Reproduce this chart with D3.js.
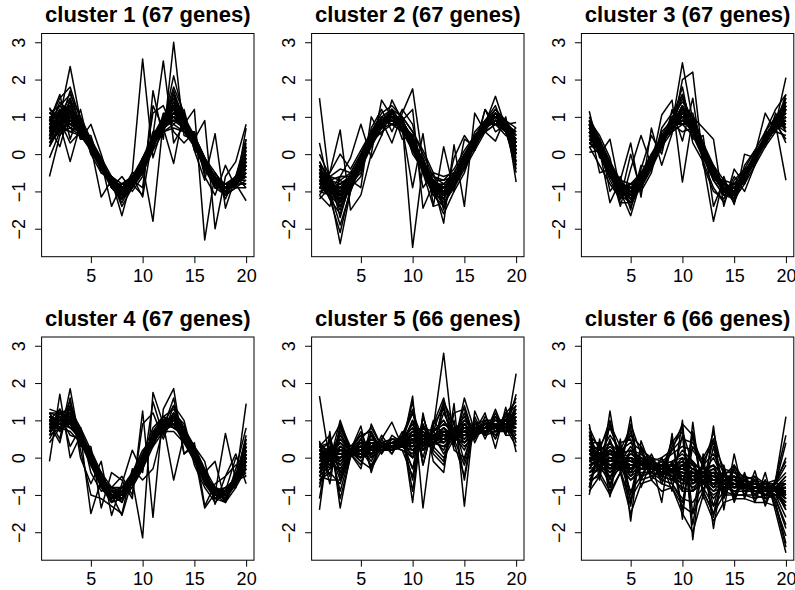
<!DOCTYPE html>
<html>
<head>
<meta charset="utf-8">
<script src="https://cdn.jsdelivr.net/npm/d3@7"></script>
<style>
  body { margin: 0; background: #fff; }
  svg { display: block; font-family: "Liberation Sans", Arial, Helvetica, sans-serif; }
  .main_title { font-weight: bold; font-size: 22px; }
  .tick text { font-size: 18px; fill: #000; }
</style>
</head>
<body>
<svg id="chart" width="795" height="590"></svg>
<script>
const timePoints = [1, 2, 3, 4, 5, 6, 7, 8, 9, 10, 11, 12, 13, 14, 15, 16, 17, 18, 19, 20]
const xTicks = [5, 10, 15, 20]
const yTicks = [-2, -1, 0, 1, 2, 3]
const clusterNames = ['cluster 1', 'cluster 2', 'cluster 3', 'cluster 4', 'cluster 5', 'cluster 6']
const clusterSizes = [67, 67, 67, 67, 66, 66]

// expression profiles, one row per gene
const cluster1 = [
    [0.9,1.1,1.3,0.8,0.3,-0.2,-0.7,-0.9,-0.7,-0.2,0.4,0.9,1.2,0.9,0.4,-0.2,-0.7,-0.9,-0.7,-0.1],
    [0.5,0.8,0.9,0.6,0.2,-0.3,-0.8,-1.1,-0.8,-0.4,0.3,0.8,1.0,0.8,0.3,-0.3,-0.8,-1.0,-0.8,-0.5],
    [1.1,1.3,1.6,1.0,0.4,-0.1,-0.6,-0.9,-0.6,-0.1,0.5,1.0,1.5,1.0,0.5,-0.1,-0.6,-0.8,-0.6,0.2],
    [0.3,0.6,0.7,0.5,0.1,-0.4,-0.9,-1.2,-0.9,-0.5,0.1,0.6,0.8,0.6,0.2,-0.4,-0.9,-1.1,-0.9,-0.7],
    [0.8,1.0,0.8,0.7,0.3,-0.2,-0.7,-1.0,-0.7,-0.3,0.4,0.9,1.3,0.7,0.3,-0.3,-0.7,-0.9,-0.7,-0.2],
    [0.6,0.7,1.2,0.8,0.2,-0.3,-0.8,-0.9,-0.8,-0.2,0.3,0.7,0.9,0.9,0.4,-0.2,-0.8,-1.0,-0.7,-0.4],
    [1.0,0.9,1.1,0.6,0.1,-0.3,-0.7,-1.1,-0.7,-0.3,0.2,0.9,1.2,0.8,0.4,-0.3,-0.6,-0.9,-0.8,0.0],
    [0.4,1.2,1.0,0.7,0.3,-0.1,-0.8,-1.0,-0.9,-0.4,0.4,0.8,1.1,0.9,0.3,-0.2,-0.8,-1.0,-0.7,-0.6],
    [0.7,0.5,0.9,0.9,0.2,-0.4,-0.6,-0.8,-0.7,-0.2,0.5,0.8,0.9,0.7,0.5,-0.1,-0.7,-0.9,-0.8,-0.3],
    [1.2,1.0,1.4,0.7,0.2,-0.2,-0.9,-1.2,-0.8,-0.3,0.3,1.0,1.6,1.0,0.3,-0.3,-0.8,-1.0,-0.6,0.4],
    [0.2,0.8,0.6,0.5,0.3,-0.3,-0.7,-1.0,-0.6,-0.4,0.2,0.7,1.0,0.8,0.4,-0.2,-0.7,-1.1,-0.9,-0.9],
    [0.9,1.5,1.8,0.9,0.2,-0.2,-0.8,-1.3,-0.8,-0.1,0.4,0.9,1.8,1.1,0.2,-0.3,-0.9,-0.8,-0.7,-0.2],
    [0.6,0.9,0.3,0.6,0.1,-0.4,-0.8,-0.9,-0.8,-0.3,0.3,0.6,0.7,0.6,0.4,-0.2,-0.6,-0.9,-0.7,-0.5],
    [-0.1,0.6,1.0,0.8,0.4,-0.2,-0.7,-1.0,-0.7,-0.2,0.4,0.9,1.2,0.7,0.3,-0.3,-0.7,-1.0,-0.6,-0.3],
    [0.8,0.9,1.1,0.5,0.2,-0.3,-0.7,-1.4,-0.9,-0.5,0.2,0.8,2.1,1.0,0.4,-0.2,-0.8,-1.0,-0.8,-0.8],
    [1.0,0.7,0.9,0.7,0.3,-0.1,-0.8,-0.8,-0.6,-0.2,0.3,0.9,1.0,0.9,0.5,-0.1,-0.5,-0.9,-0.6,0.1],
    [0.7,0.9,1.0,0.7,0.2,-0.3,-0.8,-1.0,-0.8,-0.3,0.3,0.8,1.1,0.8,0.3,-0.3,-0.8,-1.0,-0.8,-0.3],
    [0.8,1.0,1.1,0.8,0.3,-0.2,-0.7,-0.9,-0.7,-0.2,0.4,0.9,1.2,0.9,0.4,-0.2,-0.7,-0.9,-0.7,-0.2],
    [0.6,0.8,0.9,0.6,0.2,-0.3,-0.8,-1.1,-0.8,-0.4,0.3,0.8,1.0,0.8,0.3,-0.3,-0.8,-1.0,-0.8,-0.4],
    [0.9,0.8,1.0,0.7,0.3,-0.2,-0.8,-1.0,-0.7,-0.3,0.4,0.8,1.1,0.9,0.3,-0.3,-0.7,-1.0,-0.7,-0.1],
    [0.5,1.0,1.2,0.7,0.2,-0.3,-0.7,-1.0,-0.8,-0.3,0.3,0.9,1.0,0.8,0.4,-0.2,-0.8,-0.9,-0.8,-0.5],
    [0.8,0.7,0.9,0.8,0.3,-0.2,-0.7,-0.9,-0.8,-0.4,0.4,0.8,1.2,0.8,0.4,-0.3,-0.8,-0.9,-0.6,-0.3],
    [0.7,1.1,1.0,0.6,0.2,-0.3,-0.9,-1.0,-0.7,-0.2,0.3,0.9,1.1,0.9,0.3,-0.2,-0.7,-1.0,-0.8,-0.2],
    [0.6,0.9,1.3,0.7,0.3,-0.3,-0.8,-1.1,-0.7,-0.3,0.4,0.8,1.3,0.8,0.3,-0.2,-0.8,-0.9,-0.7,-0.6],
    [1.0,1.0,0.9,0.7,0.2,-0.2,-0.7,-1.0,-0.8,-0.3,0.3,0.9,1.0,0.9,0.4,-0.3,-0.7,-1.0,-0.8,0.0],
    [0.7,0.8,1.1,0.8,0.2,-0.3,-0.8,-0.9,-0.7,-0.4,0.4,0.8,1.1,0.8,0.3,-0.2,-0.8,-0.9,-0.7,-0.3],
    [0.4,0.9,0.8,0.6,0.3,-0.2,-0.7,-1.0,-0.8,-0.3,0.3,0.7,0.9,0.8,0.4,-0.3,-0.7,-1.0,-0.7,-0.7],
    [0.8,1.2,1.1,0.7,0.2,-0.3,-0.7,-1.1,-0.8,-0.2,0.4,0.9,1.4,0.9,0.3,-0.2,-0.8,-0.9,-0.8,-0.1],
    [0.6,0.8,1.0,0.8,0.3,-0.2,-0.8,-1.0,-0.7,-0.3,0.3,0.8,1.0,0.7,0.4,-0.3,-0.7,-1.0,-0.7,-0.4],
    [0.9,1.1,0.8,0.6,0.2,-0.3,-0.8,-0.9,-0.8,-0.3,0.4,0.9,1.2,0.9,0.3,-0.2,-0.7,-0.9,-0.8,-0.2],
    [0.3,0.7,1.1,0.7,0.3,-0.2,-0.7,-1.0,-0.7,-0.4,0.3,0.8,1.1,0.8,0.4,-0.2,-0.8,-1.0,-0.7,-0.8],
    [0.8,0.9,1.2,0.8,0.2,-0.3,-0.8,-1.1,-0.8,-0.2,0.3,0.8,1.0,0.9,0.3,-0.3,-0.8,-0.9,-0.8,0.3],
    [1.0,0.6,1.3,0.5,0.5,-0.4,-0.6,-1.2,-0.6,-0.5,0.6,0.7,1.4,0.6,0.6,-0.4,-0.6,-1.1,-0.6,-0.6],
    [0.4,1.2,0.7,0.9,0.0,-0.1,-0.9,-0.8,-0.9,-0.1,0.1,1.1,0.8,1.1,0.1,-0.1,-0.9,-0.8,-0.9,0.1],
    [0.9,0.7,1.1,0.4,0.4,-0.5,-0.6,-1.1,-0.5,-0.5,0.5,0.6,1.3,0.6,0.5,-0.5,-0.6,-1.2,-0.6,-0.5],
    [0.5,1.1,0.8,0.9,0.1,-0.1,-0.9,-0.9,-0.9,-0.1,0.2,1.0,0.9,1.0,0.2,-0.1,-0.9,-0.8,-0.9,0.2],
    [1.1,0.9,1.4,0.6,0.3,-0.3,-0.8,-1.0,-0.7,-0.3,0.5,0.9,1.5,0.7,0.4,-0.3,-0.7,-1.0,-0.7,-0.4],
    [0.2,0.7,0.6,0.8,0.2,-0.2,-0.7,-0.9,-0.8,-0.2,0.3,0.8,0.9,0.9,0.3,-0.2,-0.8,-0.9,-0.8,-0.8],
    [0.8,1.3,0.9,0.6,0.4,-0.2,-0.8,-1.1,-0.6,-0.4,0.4,1.0,1.0,0.7,0.4,-0.3,-0.8,-1.1,-0.7,0.2],
    [0.6,0.6,1.5,0.8,0.1,-0.4,-0.7,-0.9,-0.9,-0.2,0.2,0.7,1.7,0.9,0.2,-0.2,-0.6,-0.9,-0.8,-0.6],
    [1.1,1.0,0.7,0.6,0.3,-0.3,-0.6,-1.0,-0.8,-0.3,0.4,0.8,1.1,1.0,0.4,-0.2,-0.8,-1.0,-0.6,-0.1],
    [0.7,1.4,1.1,0.7,0.2,-0.2,-0.8,-1.2,-0.7,-0.2,0.3,1.0,1.2,0.8,0.3,-0.3,-0.7,-0.9,-0.8,-0.5],
    [0.3,0.9,1.0,0.9,0.3,-0.3,-0.7,-0.9,-0.7,-0.4,0.4,0.7,1.0,0.7,0.5,-0.2,-0.8,-1.0,-0.7,0.4],
    [0.9,0.8,1.7,0.7,0.2,-0.2,-0.9,-1.0,-0.8,-0.3,0.3,0.9,1.6,0.8,0.3,-0.3,-0.7,-0.9,-0.8,-0.3],
    [0.6,1.0,2.35,0.9,0.3,-0.3,-0.8,-1.0,-0.5,2.55,-0.1,0.8,1.3,0.8,0.3,-0.2,-0.7,-1.0,-0.7,-0.3],
    [-0.6,0.5,1.0,0.6,0.2,-1.15,-0.7,-1.65,-0.6,-0.3,-1.8,0.9,1.2,0.6,0.3,-0.2,-0.8,-0.9,-0.8,-0.6],
    [0.7,0.2,1.2,0.5,0.2,-0.2,-1.4,-0.8,-0.6,-1.15,0.5,2.5,0.3,0.8,1.2,-2.3,-0.5,-0.9,-0.8,-1.25],
    [1.25,0.8,-0.2,0.8,0.3,-0.3,-0.9,-1.0,-0.8,-1.1,1.7,0.4,3.0,0.5,0.4,0.9,-2.0,-0.6,-0.2,0.8],
    [0.9,1.6,0.4,1.2,0.0,-0.5,-0.7,-1.2,-0.7,-0.9,1.3,0.7,-0.25,1.2,0.1,-0.7,0.55,-1.45,-0.6,-0.9],
    [0.5,1.1,1.5,0.4,0.8,0.0,-0.9,-0.6,-1.0,-0.6,1.1,1.3,0.6,0.3,0.6,-0.6,-1.1,-0.3,-0.9,0.7]
]
const cluster2 = [
    [-0.5,-0.8,-0.9,-0.6,-0.1,0.5,0.9,1.1,0.9,0.4,-0.2,-0.8,-0.9,-0.6,-0.1,0.4,0.8,1.0,0.8,0.3],
    [-0.8,-1.0,-1.2,-0.8,-0.3,0.3,0.8,0.9,0.7,0.2,-0.4,-0.9,-1.1,-0.8,-0.3,0.2,0.7,0.9,0.7,0.0],
    [-0.3,-0.6,-0.7,-0.5,0.0,0.6,1.0,1.2,1.0,0.6,0.0,-0.6,-0.8,-0.5,0.0,0.5,0.9,1.1,0.9,0.5],
    [-1.0,-1.1,-1.4,-0.9,-0.4,0.2,0.7,0.8,0.6,0.1,-0.5,-1.0,-1.3,-0.9,-0.4,0.1,0.6,0.8,0.6,-0.2],
    [-0.6,-0.7,-1.0,-0.7,-0.2,0.4,0.9,1.0,0.8,0.3,-0.3,-0.8,-1.0,-0.7,-0.2,0.3,0.8,0.9,0.8,0.2],
    [-0.4,-0.9,-0.8,-0.6,-0.3,0.5,0.8,1.1,0.7,0.4,-0.2,-0.9,-0.9,-0.6,-0.2,0.3,0.7,1.0,0.7,0.4],
    [-0.7,-0.6,-1.1,-0.8,-0.1,0.3,0.9,0.9,0.9,0.2,-0.4,-0.7,-1.1,-0.8,-0.3,0.4,0.8,0.9,0.7,0.1],
    [-0.9,-1.0,-0.6,-0.6,-0.2,0.4,0.7,1.2,0.8,0.5,-0.3,-0.9,-1.2,-0.7,-0.1,0.2,0.7,1.1,0.8,-0.4],
    [-0.2,-0.8,-1.3,-0.9,-0.3,0.2,0.8,1.0,0.6,0.3,-0.1,-0.8,-0.8,-0.6,-0.2,0.3,0.6,0.8,0.7,0.6],
    [-1.2,-0.9,-0.9,-0.7,-0.2,0.5,1.0,0.9,0.9,0.0,-0.4,-1.0,-1.0,-0.9,-0.3,0.4,0.9,1.0,0.9,0.3],
    [-0.5,-1.2,-1.6,-0.8,-0.4,0.3,0.6,0.8,0.7,0.3,-0.5,-1.1,-1.4,-0.8,-0.2,0.2,0.7,0.9,0.6,-0.2],
    [0.0,-0.6,-0.4,-0.5,0.0,0.6,1.1,1.3,1.0,0.6,0.1,-0.5,-0.6,-0.5,0.0,0.4,0.9,1.2,0.9,0.7],
    [-0.7,-1.0,-1.9,-1.0,-0.3,0.2,0.8,1.0,0.8,0.1,-0.3,-1.0,-1.6,-1.0,-0.5,0.3,0.7,1.0,0.8,0.0],
    [-0.6,-0.5,0.0,-0.4,0.1,0.6,0.9,1.1,0.9,0.4,-0.2,-0.6,-0.7,-0.4,0.1,0.5,0.8,1.1,0.8,0.5],
    [-0.9,-1.1,-1.0,-0.8,-0.5,0.4,0.9,0.8,0.8,0.3,-0.3,-0.9,-1.1,-0.7,-0.2,0.3,0.8,0.9,0.8,0.3],
    [-0.4,-0.7,-1.1,-0.6,-0.2,0.4,0.8,1.0,0.9,0.2,-0.2,-0.7,-0.9,-0.6,-0.3,0.3,0.7,1.0,0.7,0.2],
    [-0.6,-0.9,-1.0,-0.7,-0.2,0.4,0.8,1.0,0.8,0.3,-0.3,-0.9,-1.0,-0.7,-0.2,0.3,0.8,1.0,0.7,0.2],
    [-0.5,-0.8,-0.9,-0.6,-0.1,0.5,0.9,1.1,0.9,0.4,-0.2,-0.8,-0.9,-0.6,-0.1,0.4,0.8,1.0,0.8,0.3],
    [-0.7,-0.9,-1.1,-0.8,-0.3,0.3,0.8,0.9,0.7,0.2,-0.4,-0.9,-1.1,-0.8,-0.3,0.2,0.7,0.9,0.7,0.1],
    [-0.6,-0.8,-1.2,-0.7,-0.2,0.4,0.9,1.0,0.8,0.4,-0.3,-0.8,-1.0,-0.7,-0.2,0.3,0.8,0.9,0.8,0.4],
    [-0.8,-0.9,-0.9,-0.6,-0.2,0.3,0.8,1.1,0.8,0.3,-0.4,-0.9,-1.1,-0.7,-0.2,0.3,0.7,1.0,0.7,0.0],
    [-0.4,-0.8,-1.0,-0.8,-0.3,0.4,0.9,1.0,0.7,0.2,-0.3,-0.8,-0.9,-0.7,-0.1,0.4,0.8,0.9,0.8,0.3],
    [-0.7,-1.0,-1.2,-0.7,-0.1,0.5,0.8,0.9,0.8,0.3,-0.2,-0.9,-1.0,-0.8,-0.2,0.3,0.7,1.0,0.8,-0.1],
    [-0.5,-0.7,-0.8,-0.6,-0.2,0.4,0.9,1.1,0.9,0.4,-0.3,-0.7,-0.9,-0.6,-0.3,0.3,0.8,1.0,0.7,0.5],
    [-0.9,-0.9,-1.1,-0.7,-0.2,0.3,0.8,1.0,0.8,0.2,-0.3,-0.9,-1.1,-0.7,-0.2,0.2,0.7,0.9,0.7,0.2],
    [-0.6,-0.8,-1.0,-0.8,-0.3,0.4,0.9,1.0,0.9,0.3,-0.2,-0.8,-1.0,-0.6,-0.2,0.3,0.8,1.0,0.8,0.1],
    [-0.3,-0.9,-1.0,-0.6,-0.2,0.5,0.8,1.0,0.7,0.3,-0.4,-0.9,-1.0,-0.7,-0.1,0.3,0.7,0.9,0.7,0.4],
    [-0.7,-0.8,-0.9,-0.7,-0.1,0.4,0.9,0.9,0.8,0.4,-0.3,-0.8,-1.1,-0.8,-0.3,0.4,0.8,1.0,0.8,-0.3],
    [-0.6,-1.0,-1.3,-0.8,-0.2,0.3,0.8,1.1,0.8,0.3,-0.3,-0.9,-0.9,-0.7,-0.2,0.2,0.7,0.9,0.7,0.2],
    [-0.5,-0.7,-1.0,-0.6,-0.3,0.4,0.8,1.0,0.9,0.2,-0.2,-0.8,-1.0,-0.7,-0.2,0.3,0.8,1.0,0.8,0.6],
    [-0.8,-0.9,-1.1,-0.7,-0.2,0.5,0.9,1.0,0.8,0.3,-0.3,-0.9,-1.2,-0.7,-0.3,0.3,0.7,0.9,0.7,0.0],
    [-0.6,-0.8,-0.9,-0.7,-0.2,0.4,0.8,1.0,0.8,0.4,-0.3,-0.8,-1.0,-0.6,-0.2,0.4,0.8,1.1,0.8,0.3],
    [-0.9,-0.6,-1.3,-0.5,-0.4,0.6,0.7,1.2,0.6,0.5,-0.5,-0.7,-1.2,-0.5,-0.4,0.5,0.6,1.1,0.6,0.4],
    [-0.3,-1.1,-0.7,-0.9,0.0,0.2,1.0,0.8,1.0,0.1,-0.1,-1.0,-0.8,-0.9,0.0,0.1,0.9,0.8,0.9,0.0],
    [-0.8,-0.7,-1.2,-0.6,-0.3,0.5,0.7,1.1,0.7,0.4,-0.4,-0.7,-1.1,-0.6,-0.3,0.4,0.7,1.1,0.7,0.3],
    [-0.4,-1.0,-0.8,-0.8,-0.1,0.3,1.0,0.9,0.9,0.2,-0.2,-1.0,-0.9,-0.8,-0.1,0.2,0.8,0.8,0.8,0.1],
    [-1.0,-0.9,-1.5,-0.7,-0.2,0.4,0.8,1.0,0.8,0.3,-0.3,-0.9,-1.4,-0.7,-0.2,0.3,0.7,1.0,0.7,-0.5],
    [-0.2,-0.7,-0.6,-0.6,-0.2,0.4,0.9,1.2,0.8,0.4,-0.2,-0.7,-0.7,-0.6,-0.2,0.4,0.8,1.2,0.8,0.6],
    [-0.7,-1.2,-1.0,-0.7,-0.3,0.3,0.8,0.9,0.9,0.2,-0.4,-1.1,-1.0,-0.7,-0.3,0.3,0.7,0.9,0.8,0.2],
    [-0.5,-0.8,-1.4,-0.9,-0.1,0.5,0.9,1.0,0.7,0.3,-0.3,-0.8,-1.3,-0.9,-0.1,0.3,0.8,1.0,0.7,0.0],
    [-0.7,-0.9,-0.8,-0.6,-0.2,0.4,0.8,1.1,0.8,0.5,-0.3,-0.9,-0.8,-0.6,-0.2,0.4,0.7,1.0,0.8,0.4],
    [-0.6,-1.0,-1.1,-0.7,-0.2,0.3,0.9,1.0,0.7,0.2,-0.3,-0.8,-1.1,-0.7,-0.2,0.2,0.8,0.9,0.7,-0.2],
    [-1.1,-0.7,-1.0,-0.8,-0.3,0.4,0.8,0.9,0.8,0.3,-0.4,-0.9,-1.0,-0.8,-0.3,0.3,0.7,1.0,0.8,0.3],
    [-0.4,-0.9,-0.9,-0.6,-0.1,0.5,0.9,1.1,0.9,0.3,-0.2,-0.8,-0.9,-0.6,-0.1,0.4,0.8,0.9,0.7,0.5],
    [1.5,-0.8,-1.0,-0.7,-0.2,0.4,0.8,1.0,0.8,-2.5,-0.3,-0.9,-1.0,-0.7,-0.2,0.3,0.8,1.0,0.7,0.3],
    [0.3,-1.0,-2.4,-1.0,-0.2,0.5,0.9,0.3,1.1,1.75,-0.2,-0.8,-1.0,-0.7,-0.2,0.3,0.8,1.55,0.7,0.1],
    [-0.8,-0.5,0.65,-1.5,-1.1,0.0,1.45,1.0,0.7,-0.9,0.55,-1.4,0.2,-1.0,0.4,0.2,1.2,0.6,0.8,0.85],
    [-1.1,-1.4,-0.6,-0.1,0.8,-0.1,0.5,1.45,0.9,1.2,-1.45,-0.8,-1.85,0.25,-1.4,1.1,0.6,0.35,1.0,-0.75],
    [-0.5,-1.2,-2.1,-0.9,-0.6,0.7,1.2,0.6,1.2,0.8,-0.5,-1.4,-1.3,-0.1,0.5,0.1,1.2,0.8,0.5,0.7],
    [-0.9,-0.6,-1.7,-0.7,-0.9,1.0,0.5,1.2,0.4,0.5,-0.9,-0.5,-1.5,-0.5,-0.4,0.6,0.9,1.3,0.6,-0.3]
]
const cluster3 = [
    [0.7,0.3,-0.3,-0.8,-0.9,-0.6,-0.1,0.4,0.9,1.1,0.8,0.2,-0.4,-0.8,-0.9,-0.5,0.0,0.5,0.9,1.1],
    [0.4,0.1,-0.5,-1.0,-1.1,-0.8,-0.3,0.3,0.7,0.9,0.6,0.0,-0.6,-1.0,-1.1,-0.7,-0.2,0.3,0.7,0.8],
    [0.9,0.4,-0.2,-0.7,-0.8,-0.5,0.0,0.5,1.0,1.4,1.0,0.3,-0.3,-0.7,-0.8,-0.4,0.1,0.6,1.0,1.4],
    [0.3,0.0,-0.6,-1.1,-1.3,-0.9,-0.4,0.2,0.6,0.8,0.5,-0.1,-0.7,-1.1,-1.2,-0.8,-0.3,0.2,0.6,0.5],
    [0.6,0.2,-0.4,-0.9,-1.0,-0.7,-0.2,0.4,0.8,1.0,0.8,0.1,-0.5,-0.9,-1.0,-0.6,-0.1,0.4,0.8,1.0],
    [0.5,0.3,-0.5,-0.8,-1.1,-0.6,-0.2,0.3,0.9,1.2,0.7,0.2,-0.5,-1.0,-0.9,-0.6,-0.1,0.5,0.8,1.2],
    [0.8,0.1,-0.3,-1.0,-0.9,-0.8,-0.1,0.4,0.7,0.9,0.9,0.0,-0.4,-0.9,-1.1,-0.5,-0.2,0.4,0.9,0.9],
    [1.0,0.4,-0.4,-0.9,-1.2,-0.7,-0.3,0.3,0.8,1.6,0.8,0.2,-0.6,-0.8,-1.0,-0.7,0.0,0.3,0.7,1.3],
    [0.2,0.2,-0.2,-0.8,-1.0,-0.5,-0.2,0.4,0.9,1.0,1.1,0.1,-0.5,-1.0,-1.0,-0.6,-0.1,0.4,1.0,0.7],
    [0.6,0.0,-0.7,-1.2,-0.9,-0.7,-0.3,0.3,0.8,1.3,0.6,-0.1,-0.4,-0.9,-1.2,-0.5,-0.1,0.5,0.8,1.5],
    [0.7,0.3,-0.3,-0.9,-1.4,-0.8,-0.2,0.5,0.7,1.0,0.7,0.1,-0.6,-1.0,-0.8,-0.6,-0.2,0.4,0.9,0.3],
    [0.4,0.2,-0.4,-0.7,-1.0,-0.6,0.0,0.3,1.0,0.8,0.9,0.2,-0.5,-0.8,-1.0,-0.7,-0.1,0.3,0.8,1.0],
    [0.9,0.3,-0.5,-1.0,-1.1,-0.8,-0.2,0.4,0.6,1.1,0.6,0.0,-0.7,-1.1,-1.1,-0.6,0.0,0.4,0.7,1.2],
    [0.5,0.1,-0.3,-0.9,-0.8,-0.6,-0.1,0.2,0.9,0.9,0.8,0.1,-0.3,-0.9,-1.0,-0.5,-0.2,0.5,0.9,0.8],
    [0.3,0.1,-0.6,-0.9,-1.2,-0.9,-0.3,0.5,0.8,1.2,1.0,0.3,-0.5,-1.0,-1.1,-0.6,-0.1,0.4,0.8,1.1],
    [0.6,0.2,-0.4,-0.8,-1.0,-0.7,-0.2,0.3,0.8,0.6,0.7,0.0,-0.4,-0.9,-0.9,-0.7,-0.1,0.3,0.7,0.9],
    [0.6,0.2,-0.4,-0.9,-1.0,-0.7,-0.2,0.3,0.8,1.0,0.7,0.1,-0.5,-0.9,-1.0,-0.6,-0.1,0.4,0.8,1.0],
    [0.7,0.3,-0.3,-0.8,-0.9,-0.6,-0.1,0.4,0.9,1.1,0.8,0.2,-0.4,-0.8,-0.9,-0.5,0.0,0.5,0.9,1.1],
    [0.5,0.1,-0.5,-1.0,-1.1,-0.8,-0.3,0.3,0.7,0.9,0.7,0.0,-0.6,-1.0,-1.1,-0.7,-0.2,0.3,0.7,0.9],
    [0.6,0.3,-0.4,-0.8,-1.1,-0.7,-0.2,0.4,0.8,1.2,0.8,0.1,-0.5,-0.9,-1.0,-0.6,-0.1,0.4,0.8,1.2],
    [0.8,0.2,-0.5,-0.9,-1.0,-0.6,-0.2,0.3,0.9,1.0,0.6,0.1,-0.6,-0.9,-1.1,-0.7,-0.1,0.3,0.8,0.9],
    [0.4,0.2,-0.3,-1.0,-0.9,-0.7,-0.1,0.4,0.8,0.9,0.8,0.2,-0.4,-1.0,-1.0,-0.6,-0.2,0.4,0.9,1.0],
    [0.7,0.1,-0.4,-0.9,-1.2,-0.8,-0.3,0.3,0.7,1.1,0.7,0.0,-0.5,-0.8,-0.9,-0.5,-0.1,0.5,0.8,1.3],
    [0.5,0.3,-0.3,-0.8,-1.0,-0.7,-0.2,0.4,0.8,1.3,0.9,0.1,-0.4,-0.9,-1.0,-0.6,0.0,0.4,0.7,0.8],
    [0.6,0.2,-0.5,-1.0,-1.0,-0.6,-0.2,0.3,0.9,1.0,0.7,0.2,-0.5,-0.9,-1.1,-0.7,-0.1,0.3,0.8,1.1],
    [0.9,0.2,-0.4,-0.9,-0.9,-0.7,-0.3,0.4,0.8,0.8,0.8,0.0,-0.5,-1.0,-0.9,-0.6,-0.1,0.4,0.9,1.2],
    [0.3,0.1,-0.4,-0.8,-1.1,-0.7,-0.2,0.3,0.7,1.0,0.6,0.1,-0.6,-0.9,-1.0,-0.5,-0.2,0.4,0.8,0.7],
    [0.7,0.3,-0.5,-0.9,-1.0,-0.8,-0.1,0.4,0.9,1.1,0.8,0.2,-0.4,-0.8,-1.1,-0.6,-0.1,0.5,0.8,1.0],
    [0.5,0.2,-0.3,-1.0,-1.2,-0.6,-0.2,0.3,0.8,0.9,0.7,0.1,-0.5,-1.0,-1.0,-0.7,0.0,0.3,0.7,1.2],
    [0.8,0.1,-0.4,-0.9,-1.0,-0.7,-0.3,0.3,0.8,1.2,0.9,0.1,-0.6,-0.9,-0.9,-0.6,-0.1,0.4,0.9,0.9],
    [0.6,0.3,-0.4,-0.8,-0.9,-0.7,-0.2,0.4,0.7,1.0,0.7,0.0,-0.5,-0.9,-1.0,-0.6,-0.2,0.4,0.8,1.4],
    [0.4,0.2,-0.5,-0.9,-1.1,-0.6,-0.1,0.3,0.8,1.1,0.8,0.2,-0.4,-1.0,-1.0,-0.5,-0.1,0.5,0.8,1.0],
    [0.9,-0.1,-0.2,-1.1,-0.8,-0.9,0.0,0.1,1.0,0.8,0.9,-0.1,-0.3,-1.1,-0.8,-0.8,0.1,0.2,1.0,0.7],
    [0.3,0.4,-0.6,-0.7,-1.2,-0.5,-0.4,0.5,0.6,1.2,0.6,0.3,-0.7,-0.7,-1.2,-0.4,-0.3,0.6,0.6,1.3],
    [0.8,0.0,-0.3,-1.0,-0.9,-0.8,-0.1,0.2,0.9,0.9,0.8,0.0,-0.4,-1.0,-0.9,-0.7,0.0,0.3,0.9,0.8],
    [0.4,0.3,-0.5,-0.8,-1.1,-0.6,-0.3,0.4,0.7,1.1,0.7,0.2,-0.6,-0.8,-1.1,-0.5,-0.2,0.5,0.7,1.2],
    [0.7,0.2,-0.4,-0.9,-1.3,-0.7,-0.2,0.3,0.8,1.5,0.8,0.1,-0.5,-0.9,-1.3,-0.6,-0.1,0.4,0.8,1.5],
    [0.5,0.2,-0.4,-0.9,-0.8,-0.7,-0.2,0.4,0.8,0.9,0.7,0.1,-0.5,-0.9,-0.8,-0.6,-0.1,0.4,0.8,0.6],
    [0.6,0.1,-0.6,-1.1,-1.0,-0.6,-0.1,0.3,0.9,1.0,0.9,0.2,-0.4,-1.1,-1.0,-0.6,-0.2,0.4,0.9,1.1],
    [0.7,0.3,-0.2,-0.8,-1.0,-0.8,-0.3,0.4,0.7,1.3,0.6,0.0,-0.6,-0.9,-1.0,-0.7,0.0,0.3,0.7,0.9],
    [0.5,0.2,-0.5,-0.9,-1.1,-0.7,-0.2,0.4,0.8,1.0,0.8,0.1,-0.5,-0.8,-1.0,-0.6,-0.1,0.4,0.8,1.6],
    [0.8,0.3,-0.3,-0.9,-1.0,-0.6,-0.2,0.3,0.9,1.1,0.7,0.1,-0.4,-1.0,-1.1,-0.5,-0.1,0.5,0.8,0.4],
    [0.3,0.1,-0.5,-1.0,-0.9,-0.7,-0.1,0.3,0.7,0.9,0.8,0.2,-0.5,-0.9,-0.9,-0.7,-0.2,0.3,0.7,1.0],
    [0.6,0.2,-0.3,-0.8,-1.2,-0.8,-0.2,0.4,0.8,1.2,0.7,0.0,-0.6,-0.9,-1.0,-0.6,0.0,0.4,0.9,1.2],
    [1.15,0.0,0.4,-1.0,-1.65,-0.7,-0.2,0.3,0.8,2.45,0.9,0.1,-0.5,-0.9,-1.0,-0.6,-0.1,0.4,0.8,2.05],
    [0.05,0.1,-1.3,-0.7,0.3,-1.15,0.7,-0.3,0.55,2.0,2.2,-0.2,-1.8,-0.6,-1.35,0.0,-0.1,0.4,0.8,-0.7],
    [0.8,-0.5,-0.4,-1.4,-0.4,0.5,-0.3,1.05,1.45,-0.75,1.0,0.7,0.4,-1.4,-0.4,-0.8,0.0,1.1,0.6,1.3],
    [0.5,0.4,-1.0,-0.6,-1.5,-0.4,0.5,0.0,1.2,0.35,1.5,-0.3,-1.0,-1.2,-0.6,-1.0,-0.3,0.6,1.2,1.6],
    [0.2,-0.3,-0.8,-1.2,0.0,-1.0,-0.5,0.6,0.9,1.8,0.4,0.5,-1.4,-0.7,-1.3,-0.3,0.1,0.2,1.1,0.6],
    [0.9,0.5,-0.1,-1.3,-1.3,-0.3,-0.4,0.7,1.1,1.6,0.3,-0.2,-0.9,-1.3,-0.7,-0.4,-0.3,0.5,0.6,1.4]
]
const cluster4 = [
    [1.0,1.1,1.1,0.7,0.1,-0.5,-0.9,-0.9,-0.5,0.0,0.6,1.0,1.0,0.7,0.2,-0.4,-0.9,-0.9,-0.5,0.1],
    [0.8,0.9,0.9,0.5,-0.1,-0.7,-1.1,-1.0,-0.7,-0.2,0.4,0.8,0.9,0.5,0.0,-0.6,-1.0,-1.1,-0.7,-0.1],
    [1.2,1.2,1.3,0.8,0.2,-0.4,-0.8,-0.8,-0.4,0.1,0.8,1.1,1.3,0.8,0.3,-0.3,-0.8,-0.9,-0.5,0.3],
    [0.6,0.8,0.7,0.4,-0.2,-0.8,-1.2,-1.1,-0.8,-0.3,0.3,0.7,0.7,0.4,-0.1,-0.7,-1.1,-1.2,-0.8,-0.3],
    [0.9,1.0,1.0,0.6,0.0,-0.6,-1.0,-1.0,-0.6,-0.1,0.5,0.9,1.0,0.6,0.1,-0.5,-1.0,-1.0,-0.6,0.0],
    [1.1,0.8,1.2,0.5,0.1,-0.5,-1.1,-0.9,-0.5,-0.1,0.6,1.0,0.8,0.7,0.1,-0.5,-0.9,-1.0,-0.7,0.2],
    [0.7,1.1,0.9,0.7,-0.1,-0.7,-0.9,-1.0,-0.7,0.0,0.4,0.8,1.1,0.5,0.0,-0.6,-1.0,-0.9,-0.6,-0.2],
    [1.0,0.7,1.4,0.6,0.0,-0.4,-1.0,-1.2,-0.6,-0.2,0.7,1.1,0.9,0.6,0.2,-0.4,-1.1,-1.0,-0.5,0.5],
    [0.5,1.0,0.8,0.5,0.1,-0.6,-0.8,-0.9,-0.5,-0.1,0.5,0.7,1.1,0.8,0.0,-0.5,-0.9,-1.1,-0.6,-0.4],
    [1.3,1.2,1.1,0.6,-0.2,-0.7,-1.2,-0.9,-0.7,0.1,0.6,1.0,1.0,0.5,0.1,-0.6,-1.0,-1.0,-0.7,0.1],
    [0.8,0.9,1.2,0.7,0.0,-0.5,-1.0,-1.1,-0.6,-0.2,0.4,0.9,0.8,0.6,0.1,-0.5,-0.9,-0.8,-0.6,0.0],
    [0.9,1.1,0.6,0.5,0.2,-0.8,-1.1,-1.0,-0.5,-0.1,0.6,0.8,1.2,0.7,0.3,-0.4,-0.9,-1.1,-0.5,0.2],
    [1.1,0.9,1.0,0.8,-0.1,-0.6,-0.9,-0.8,-0.6,0.0,0.3,1.0,0.9,0.4,0.0,-0.6,-1.1,-0.9,-0.7,-0.2],
    [0.4,0.8,1.1,0.6,0.0,-0.5,-1.0,-1.0,-0.7,-0.3,0.7,0.9,1.0,0.6,0.2,-0.5,-0.8,-1.0,-0.6,0.4],
    [1.0,1.3,0.9,0.4,-0.1,-0.7,-1.0,-1.1,-0.6,-0.1,0.5,0.7,0.9,0.7,0.1,-0.7,-1.0,-1.2,-0.6,-0.3],
    [0.7,1.0,1.0,0.6,0.1,-0.6,-0.9,-0.9,-0.4,0.2,0.5,1.0,1.1,0.5,0.0,-0.5,-0.9,-1.0,-0.5,0.1],
    [0.9,1.0,1.0,0.6,0.0,-0.6,-1.0,-1.0,-0.6,-0.1,0.5,0.9,1.0,0.6,0.1,-0.5,-1.0,-1.0,-0.6,0.0],
    [1.0,1.1,1.1,0.7,0.1,-0.5,-0.9,-0.9,-0.5,0.0,0.6,1.0,1.0,0.7,0.2,-0.4,-0.9,-0.9,-0.5,0.1],
    [0.8,0.9,0.9,0.5,-0.1,-0.7,-1.1,-1.0,-0.7,-0.2,0.4,0.8,0.9,0.5,0.0,-0.6,-1.0,-1.1,-0.7,-0.1],
    [0.9,1.0,1.1,0.6,0.0,-0.6,-1.0,-0.9,-0.6,-0.1,0.5,1.0,1.0,0.6,0.1,-0.5,-0.9,-1.0,-0.6,0.2],
    [1.0,0.9,1.0,0.5,0.0,-0.5,-1.0,-1.0,-0.7,-0.1,0.5,0.8,0.9,0.6,0.0,-0.6,-1.0,-1.0,-0.6,-0.1],
    [0.8,1.1,1.0,0.6,0.1,-0.6,-1.0,-1.0,-0.5,0.0,0.6,0.9,1.0,0.7,0.1,-0.5,-0.9,-1.1,-0.7,0.0],
    [1.1,1.0,0.9,0.7,-0.1,-0.7,-1.1,-0.9,-0.6,-0.2,0.4,0.9,1.1,0.5,0.2,-0.4,-1.0,-1.0,-0.5,0.3],
    [0.9,0.9,1.2,0.6,0.0,-0.6,-0.9,-1.0,-0.6,-0.1,0.5,1.0,0.9,0.6,0.1,-0.6,-1.0,-0.9,-0.6,-0.2],
    [0.7,1.0,1.0,0.5,0.1,-0.5,-1.0,-1.1,-0.6,0.0,0.6,0.9,1.0,0.7,0.0,-0.5,-0.9,-1.0,-0.7,0.1],
    [1.0,1.1,0.9,0.6,0.0,-0.6,-1.1,-1.0,-0.7,-0.1,0.4,0.8,1.0,0.6,0.1,-0.5,-1.0,-1.1,-0.6,-0.1],
    [0.9,1.2,1.1,0.7,0.0,-0.7,-1.0,-0.9,-0.5,-0.1,0.5,1.0,0.9,0.5,0.1,-0.4,-0.9,-1.0,-0.5,0.4],
    [0.8,0.9,1.0,0.6,-0.1,-0.6,-0.9,-1.0,-0.6,0.0,0.6,0.9,1.1,0.6,0.2,-0.5,-1.0,-0.9,-0.6,0.0],
    [1.1,1.0,1.1,0.5,0.1,-0.5,-1.0,-1.0,-0.6,-0.2,0.5,0.9,0.9,0.7,0.1,-0.6,-0.9,-1.0,-0.7,-0.3],
    [0.9,0.8,1.0,0.7,0.0,-0.6,-1.1,-0.9,-0.7,-0.1,0.5,0.8,1.0,0.6,0.0,-0.5,-1.0,-1.1,-0.6,0.2],
    [1.0,1.0,1.2,0.6,0.1,-0.6,-0.9,-1.0,-0.5,0.0,0.6,1.1,1.0,0.5,0.1,-0.5,-0.9,-1.0,-0.6,0.0],
    [0.8,1.1,0.9,0.6,0.0,-0.5,-1.0,-1.0,-0.6,-0.1,0.4,0.9,1.0,0.6,0.1,-0.6,-1.0,-0.9,-0.5,0.1],
    [1.2,0.8,1.3,0.4,0.2,-0.8,-0.8,-1.2,-0.4,-0.3,0.7,0.7,1.2,0.4,0.3,-0.7,-0.8,-1.2,-0.4,-0.2],
    [0.6,1.2,0.8,0.8,-0.2,-0.4,-1.2,-0.8,-0.8,0.1,0.3,1.1,0.8,0.8,-0.1,-0.3,-1.1,-0.8,-0.8,0.2],
    [1.1,0.9,1.2,0.5,0.1,-0.7,-0.9,-1.1,-0.5,-0.2,0.6,0.8,1.1,0.5,0.2,-0.6,-0.9,-1.1,-0.5,-0.1],
    [0.7,1.1,0.9,0.7,-0.1,-0.5,-1.1,-0.9,-0.7,0.0,0.4,1.0,0.9,0.7,0.0,-0.4,-1.0,-0.9,-0.7,0.1],
    [1.0,1.0,1.5,0.6,0.0,-0.6,-1.0,-0.9,-0.6,-0.1,0.5,0.9,1.4,0.6,0.1,-0.5,-1.0,-1.0,-0.6,0.6],
    [0.8,0.9,0.8,0.6,0.0,-0.6,-1.0,-1.0,-0.6,-0.1,0.5,0.9,0.8,0.6,0.1,-0.5,-0.9,-1.0,-0.6,-0.5],
    [0.9,1.2,1.0,0.5,0.1,-0.7,-1.1,-1.0,-0.5,0.0,0.6,1.0,1.0,0.5,0.0,-0.6,-1.0,-1.1,-0.6,0.3],
    [1.0,0.8,1.1,0.7,-0.1,-0.5,-0.9,-0.9,-0.7,-0.2,0.4,0.8,1.0,0.7,0.2,-0.5,-0.9,-0.9,-0.7,-0.1],
    [0.8,1.0,1.0,0.6,0.0,-0.6,-1.0,-1.0,-0.6,-0.1,0.5,0.9,1.0,0.6,0.1,-0.5,-1.0,-1.0,-0.6,0.5],
    [1.2,1.1,0.9,0.6,0.0,-0.6,-1.0,-0.9,-0.6,-0.1,0.5,1.0,0.9,0.6,0.1,-0.6,-1.0,-1.0,-0.6,-0.3],
    [0.7,0.9,1.1,0.5,0.1,-0.5,-0.9,-1.0,-0.5,0.0,0.6,0.8,1.1,0.5,0.0,-0.5,-0.9,-1.0,-0.5,0.1],
    [1.0,1.0,1.0,0.7,-0.1,-0.7,-1.1,-0.9,-0.7,-0.2,0.4,0.9,1.0,0.7,0.1,-0.5,-1.0,-1.0,-0.7,0.0],
    [-0.1,1.7,0.0,0.6,-1.5,-0.6,-1.0,-1.55,-0.6,-2.15,1.75,0.9,-0.6,0.6,0.1,-1.35,-0.95,0.65,-0.6,1.45],
    [1.0,0.5,1.85,0.3,0.3,-1.35,-0.4,-0.6,-1.1,1.25,-1.6,1.3,1.85,0.1,0.3,-0.1,-1.25,-0.5,0.1,-0.7],
    [0.9,0.4,1.6,0.0,-0.7,-0.1,-1.55,-0.7,0.2,-0.4,1.5,0.6,1.4,1.0,-0.1,-0.4,-0.1,-1.2,-0.3,0.8],
    [1.2,0.7,1.4,0.2,-1.0,-1.1,-1.3,-1.5,-0.3,-0.6,-0.3,0.8,1.6,0.1,0.4,-1.3,-0.7,-0.5,-0.2,-0.5],
    [0.7,1.3,0.3,0.8,-0.4,-0.9,-0.8,-0.5,-1.0,0.9,1.2,0.5,1.2,0.9,-0.2,-0.8,-1.2,-0.9,0.0,-0.3]
]
const cluster5 = [
    [0.1,0.1,0.2,0.2,0.3,0.3,0.3,0.4,0.4,0.5,0.6,0.6,0.7,0.7,0.8,0.8,0.8,0.9,0.9,1.0],
    [-0.2,0.0,0.0,0.1,0.1,0.2,0.2,0.3,0.3,0.4,0.4,0.5,0.5,0.6,0.6,0.7,0.7,0.8,0.8,0.9],
    [0.3,0.2,0.4,0.2,0.4,0.4,0.4,0.5,0.5,0.7,0.8,0.7,0.9,0.8,0.9,0.9,1.0,1.0,1.0,1.2],
    [-0.5,-0.2,-0.3,0.1,0.0,0.1,0.2,0.2,0.3,0.2,0.2,0.4,0.3,0.5,0.4,0.6,0.7,0.7,0.7,0.7],
    [0.0,0.1,0.1,0.15,0.2,0.3,0.3,0.3,0.4,0.5,0.5,0.5,0.6,0.6,0.7,0.7,0.8,0.8,0.9,0.9],
    [0.2,-0.1,0.5,0.2,0.1,0.5,0.3,0.2,0.5,0.8,0.3,0.6,0.8,0.5,0.9,0.6,0.9,0.9,0.8,1.1],
    [-0.3,0.3,-0.2,0.1,0.4,0.0,0.3,0.4,0.3,0.1,0.7,0.4,0.4,0.7,0.5,0.8,0.6,0.7,1.0,0.8],
    [0.4,0.0,0.6,0.2,0.2,0.6,0.2,0.4,0.4,1.0,0.5,0.7,1.0,0.6,1.0,0.7,0.8,1.1,0.8,1.3],
    [-0.1,0.2,-0.6,0.15,0.3,-0.1,0.4,0.3,0.5,0.0,0.8,0.5,0.2,0.8,0.4,0.8,0.9,0.6,1.0,0.6],
    [0.1,-0.3,0.3,0.1,0.5,0.2,0.3,0.5,0.4,0.6,0.4,0.6,0.7,0.5,0.8,0.6,0.8,0.9,0.9,1.0],
    [-0.7,0.0,0.0,0.2,-0.1,0.3,0.2,0.3,0.3,0.5,0.3,0.5,0.5,0.6,0.6,0.7,0.7,0.8,0.7,0.8],
    [0.3,0.4,-0.4,0.15,0.2,0.1,0.4,0.2,0.4,-0.3,0.6,0.4,1.2,0.6,0.2,0.8,0.8,0.9,0.9,1.1],
    [0.0,-0.2,0.8,0.2,0.0,0.6,0.3,0.4,0.5,1.2,0.2,0.7,1.5,0.7,1.1,0.6,0.9,0.8,0.8,1.4],
    [-0.4,0.2,0.2,0.1,0.3,0.2,0.3,0.3,0.3,0.3,0.6,0.5,0.5,0.6,0.7,0.7,0.7,0.8,0.9,0.9],
    [0.2,0.1,0.0,0.2,0.2,0.3,0.4,0.3,0.5,0.6,0.5,0.6,0.4,0.6,0.6,0.8,0.8,0.9,1.0,1.0],
    [-0.6,-0.4,-0.7,0.1,0.2,-0.2,0.3,0.3,0.2,-0.5,0.9,0.3,0.0,0.5,-0.2,0.7,0.7,0.9,0.8,0.5],
    [0.0,0.05,0.1,0.15,0.2,0.25,0.3,0.3,0.4,0.45,0.5,0.55,0.6,0.6,0.7,0.7,0.8,0.85,0.85,0.95],
    [0.2,0.1,0.2,0.2,0.3,0.3,0.3,0.4,0.5,0.6,0.6,0.6,0.7,0.7,0.8,0.8,0.9,0.9,0.9,1.1],
    [-0.2,0.0,0.0,0.1,0.1,0.2,0.3,0.3,0.3,0.3,0.4,0.5,0.5,0.5,0.6,0.7,0.7,0.8,0.8,0.8],
    [0.1,0.0,0.3,0.15,0.2,0.3,0.2,0.3,0.4,0.6,0.4,0.6,0.7,0.6,0.8,0.7,0.8,0.9,0.9,1.0],
    [-0.1,0.2,-0.1,0.2,0.3,0.2,0.3,0.4,0.4,0.4,0.6,0.5,0.5,0.7,0.6,0.8,0.8,0.8,0.9,0.9],
    [0.3,0.0,0.4,0.1,0.2,0.4,0.3,0.3,0.5,0.7,0.5,0.6,0.8,0.6,0.9,0.7,0.8,0.9,0.8,1.2],
    [-0.3,0.1,-0.3,0.15,0.1,0.1,0.3,0.2,0.3,0.2,0.5,0.5,0.4,0.6,0.5,0.7,0.7,0.8,0.9,0.8],
    [0.1,0.2,0.1,0.2,0.2,0.3,0.4,0.3,0.4,0.5,0.6,0.6,0.6,0.7,0.7,0.7,0.9,0.9,0.8,1.0],
    [-0.1,-0.1,0.0,0.1,0.2,0.2,0.3,0.3,0.4,0.4,0.5,0.5,0.6,0.5,0.7,0.6,0.8,0.8,0.9,0.9],
    [0.4,0.1,0.5,0.2,0.3,0.4,0.3,0.4,0.5,0.8,0.4,0.7,0.9,0.7,1.0,0.8,0.9,1.0,1.0,1.1],
    [-0.4,0.0,-0.4,0.1,0.1,0.0,0.2,0.2,0.3,0.0,0.5,0.4,0.3,0.6,0.4,0.7,0.7,0.7,0.8,0.7],
    [0.0,0.3,0.2,0.2,0.1,0.3,0.3,0.4,0.4,0.5,0.5,0.6,0.6,0.6,0.7,0.8,0.8,0.9,0.9,1.0],
    [0.2,-0.2,0.2,0.1,0.3,0.2,0.2,0.3,0.5,0.6,0.7,0.5,0.7,0.7,0.6,0.7,0.8,0.8,1.0,0.9],
    [-0.2,0.1,0.0,0.2,0.2,0.3,0.4,0.3,0.4,0.3,0.4,0.6,0.5,0.6,0.8,0.7,0.7,0.9,0.8,1.0],
    [0.1,0.0,0.1,0.1,0.2,0.2,0.3,0.3,0.3,0.5,0.5,0.5,0.6,0.7,0.7,0.7,0.8,0.8,0.9,0.9],
    [-0.5,0.1,0.6,0.2,0.0,0.4,0.2,0.4,0.5,0.9,0.3,0.7,1.0,0.5,0.9,0.6,0.9,0.9,0.8,1.3],
    [0.3,-0.1,0.3,0.1,0.4,0.1,0.4,0.2,0.5,0.3,0.7,0.4,0.8,0.5,0.9,0.6,0.9,0.8,1.0,0.8],
    [-0.3,0.2,-0.1,0.2,0.0,0.4,0.2,0.4,0.3,0.6,0.3,0.7,0.4,0.7,0.5,0.8,0.7,0.9,0.7,1.1],
    [0.1,0.0,0.2,0.15,0.3,0.2,0.3,0.3,0.4,0.5,0.5,0.6,0.6,0.6,0.8,0.7,0.8,0.9,0.8,1.0],
    [-0.1,0.1,0.0,0.15,0.1,0.3,0.3,0.3,0.4,0.4,0.5,0.5,0.6,0.6,0.6,0.7,0.8,0.8,0.9,0.9],
    [0.2,0.0,-0.2,0.2,0.3,0.1,0.4,0.3,0.3,0.7,0.4,0.6,0.5,0.7,0.7,0.8,0.7,0.9,0.9,1.2],
    [-0.2,0.1,0.4,0.1,0.1,0.4,0.2,0.3,0.5,0.2,0.6,0.5,0.8,0.5,0.6,0.6,0.9,0.8,0.8,0.7],
    [0.0,0.2,0.1,0.1,0.2,0.2,0.3,0.4,0.4,0.5,0.4,0.5,0.6,0.6,0.7,0.8,0.8,0.8,0.9,0.9],
    [0.1,-0.2,0.0,0.2,0.2,0.3,0.3,0.2,0.4,0.4,0.6,0.6,0.5,0.7,0.7,0.6,0.8,0.9,0.8,1.0],
    [-0.4,0.0,0.2,0.15,0.3,0.2,0.3,0.3,0.3,0.5,0.5,0.5,0.7,0.6,0.8,0.7,0.7,0.8,0.9,0.8],
    [0.2,0.1,-0.1,0.1,0.2,0.3,0.2,0.4,0.4,0.4,0.5,0.6,0.6,0.5,0.6,0.7,0.9,0.9,0.8,1.1],
    [-0.1,0.1,0.1,0.2,0.1,0.2,0.3,0.3,0.5,0.6,0.4,0.5,0.6,0.7,0.7,0.8,0.8,0.8,0.9,1.0],
    [0.1,0.0,0.0,0.1,0.3,0.3,0.3,0.4,0.4,0.4,0.5,0.6,0.5,0.6,0.7,0.7,0.8,0.9,0.9,0.9],
    [0.4,-0.5,0.8,0.2,0.6,-0.3,0.5,0.1,0.6,1.3,-0.2,0.9,1.3,0.4,1.4,0.5,1.1,0.7,1.2,1.5],
    [-0.8,0.3,-0.9,0.1,-0.2,0.7,0.2,0.4,0.5,-0.6,0.9,0.1,-0.2,1.0,-0.6,1.0,0.6,1.2,0.6,0.6],
    [0.3,0.6,-0.5,0.2,0.7,0.0,0.6,0.2,0.3,1.0,0.0,1.0,0.6,0.5,1.2,0.4,1.0,0.5,1.1,1.4],
    [-0.6,-0.3,0.7,0.1,0.0,0.6,0.1,0.5,0.4,-0.3,1.1,0.3,1.4,0.2,0.0,0.9,0.7,1.0,0.8,0.5],
    [0.2,0.4,0.9,0.2,0.5,0.8,0.3,0.3,0.6,1.2,0.5,0.2,1.5,0.9,-0.1,0.9,0.8,0.8,1.0,1.6],
    [-0.5,-0.6,-0.6,0.15,-0.1,-0.3,0.2,0.3,0.2,0.0,0.3,0.6,0.1,0.6,0.3,0.6,0.7,0.7,0.8,0.3],
    [1.65,-0.1,1.0,0.2,0.85,-0.4,0.5,0.95,0.3,1.65,-1.35,0.8,2.8,0.3,1.6,0.7,1.2,0.25,1.35,0.15],
    [-1.4,0.7,-1.35,0.1,-0.3,0.9,0.3,0.2,0.7,-1.2,1.2,-0.1,-0.4,1.45,-1.3,1.25,0.6,1.3,0.6,2.25],
    [0.45,-0.7,0.9,0.3,0.6,0.7,0.1,0.6,0.4,1.5,-0.2,0.9,1.6,0.4,-0.5,1.1,0.5,1.1,0.7,1.7],
    [-1.1,0.5,-1.1,0.0,0.5,-0.3,0.4,0.1,0.6,-0.9,1.1,0.2,-0.1,1.2,1.3,0.5,1.0,0.5,1.2,0.4]
]
const cluster6 = [
    [0.1,0.0,0.1,0.0,-0.1,-0.1,-0.2,-0.2,-0.3,-0.3,-0.4,-0.4,-0.5,-0.6,-0.6,-0.7,-0.7,-0.8,-0.8,-0.8],
    [-0.2,-0.1,-0.3,-0.2,-0.3,-0.2,-0.3,-0.4,-0.4,-0.5,-0.6,-0.6,-0.7,-0.7,-0.8,-0.8,-0.9,-0.9,-0.9,-1.1],
    [0.3,0.2,0.4,0.1,0.2,0.1,-0.1,-0.2,-0.1,0.0,-0.2,-0.3,-0.2,-0.5,-0.5,-0.6,-0.7,-0.7,-0.8,-0.6],
    [-0.4,-0.3,-0.5,-0.3,-0.6,-0.4,-0.4,-0.5,-0.6,-0.8,-0.9,-0.7,-1.0,-0.8,-0.9,-0.9,-0.9,-1.0,-1.0,-1.3],
    [0.0,-0.1,0.0,-0.1,-0.2,-0.2,-0.2,-0.3,-0.3,-0.4,-0.5,-0.5,-0.6,-0.6,-0.7,-0.7,-0.8,-0.8,-0.9,-0.9],
    [0.5,0.1,0.6,0.2,0.4,0.2,0.0,-0.1,0.1,0.3,0.2,-0.2,0.1,-0.4,-0.4,-0.5,-0.6,-0.7,-0.7,-0.4],
    [-0.6,-0.2,-0.7,-0.2,-0.9,-0.5,-0.4,-0.6,-0.7,-1.1,-1.2,-0.8,-1.3,-0.9,-1.0,-1.0,-1.0,-1.1,-1.0,-1.6],
    [0.2,-0.2,0.2,-0.1,0.0,-0.3,-0.3,-0.2,-0.4,-0.2,-0.6,-0.5,-0.4,-0.7,-0.6,-0.8,-0.8,-0.9,-0.8,-0.9],
    [-0.3,0.1,-0.2,0.0,-0.4,0.0,-0.2,-0.4,-0.2,-0.6,-0.3,-0.4,-0.8,-0.5,-0.8,-0.7,-0.7,-0.8,-0.9,-1.0],
    [0.6,0.3,0.8,0.1,0.6,0.3,-0.1,0.0,0.2,0.5,0.4,-0.1,0.4,-0.3,-0.4,-0.6,-0.7,-0.7,-0.7,-0.2],
    [-0.7,-0.4,-0.9,-0.4,-1.1,-0.6,-0.5,-0.7,-0.8,-1.3,-1.5,-0.9,-1.5,-1.0,-1.0,-1.0,-1.1,-1.0,-1.1,-1.9],
    [0.0,0.0,-0.1,-0.1,-0.1,-0.2,-0.3,-0.3,-0.4,-0.4,-0.5,-0.6,-0.6,-0.6,-0.7,-0.8,-0.8,-0.8,-0.9,-1.0],
    [-0.1,-0.2,0.2,-0.2,0.1,-0.1,-0.2,-0.4,-0.3,-0.1,-0.7,-0.5,-0.3,-0.7,-0.7,-0.7,-0.9,-0.9,-0.8,-0.7],
    [0.4,0.0,-0.4,0.0,-0.5,-0.1,-0.3,-0.2,-0.5,-0.7,-0.1,-0.7,-0.9,-0.6,-0.6,-0.9,-0.8,-0.8,-1.0,-1.2],
    [-0.5,-0.3,0.0,-0.3,0.2,-0.3,-0.2,-0.5,-0.3,0.0,-0.9,-0.4,-0.2,-0.8,-0.8,-0.6,-0.9,-1.0,-0.8,-0.5],
    [0.2,0.3,0.1,0.1,-0.3,0.0,-0.3,-0.3,-0.2,-0.5,-0.4,-0.5,-0.7,-0.5,-0.6,-0.7,-0.8,-0.9,-0.9,-1.4],
    [-0.05,-0.05,-0.1,-0.1,-0.2,-0.15,-0.25,-0.3,-0.35,-0.4,-0.5,-0.5,-0.6,-0.65,-0.7,-0.75,-0.8,-0.85,-0.85,-0.95],
    [0.1,0.1,0.1,0.0,0.0,-0.1,-0.2,-0.2,-0.2,-0.2,-0.3,-0.4,-0.4,-0.5,-0.6,-0.7,-0.7,-0.8,-0.8,-0.8],
    [-0.2,-0.1,-0.2,-0.2,-0.3,-0.2,-0.3,-0.4,-0.4,-0.6,-0.6,-0.6,-0.7,-0.7,-0.8,-0.8,-0.9,-0.9,-0.9,-1.1],
    [0.2,0.0,0.3,0.0,0.1,0.0,-0.2,-0.3,-0.2,-0.1,-0.3,-0.4,-0.3,-0.6,-0.6,-0.7,-0.7,-0.8,-0.8,-0.8],
    [-0.3,-0.2,-0.4,-0.2,-0.5,-0.3,-0.3,-0.4,-0.5,-0.7,-0.7,-0.6,-0.9,-0.8,-0.8,-0.8,-0.9,-0.9,-1.0,-1.2],
    [0.0,0.1,0.0,-0.1,-0.1,-0.2,-0.2,-0.3,-0.3,-0.3,-0.4,-0.5,-0.5,-0.6,-0.7,-0.7,-0.8,-0.8,-0.8,-0.9],
    [-0.1,-0.2,-0.1,-0.1,-0.3,-0.1,-0.3,-0.3,-0.4,-0.5,-0.6,-0.5,-0.7,-0.7,-0.7,-0.8,-0.8,-0.9,-0.9,-1.0],
    [0.3,0.1,0.2,0.1,0.2,0.0,-0.1,-0.2,-0.1,0.1,-0.2,-0.3,-0.2,-0.5,-0.5,-0.6,-0.7,-0.8,-0.7,-0.7],
    [-0.4,-0.1,-0.3,-0.2,-0.4,-0.3,-0.3,-0.4,-0.5,-0.6,-0.8,-0.6,-0.8,-0.7,-0.8,-0.8,-0.9,-0.9,-0.9,-1.3],
    [0.1,-0.1,0.0,0.0,-0.2,-0.2,-0.2,-0.3,-0.3,-0.4,-0.4,-0.5,-0.6,-0.6,-0.6,-0.7,-0.8,-0.8,-0.9,-0.8],
    [-0.2,0.0,-0.2,-0.1,-0.1,-0.2,-0.3,-0.3,-0.4,-0.3,-0.5,-0.5,-0.5,-0.7,-0.7,-0.7,-0.8,-0.9,-0.8,-1.1],
    [0.0,-0.1,0.1,-0.1,-0.2,-0.1,-0.2,-0.3,-0.3,-0.5,-0.6,-0.4,-0.6,-0.6,-0.7,-0.8,-0.8,-0.8,-0.9,-0.9],
    [-0.1,0.0,-0.1,0.0,-0.1,-0.2,-0.3,-0.2,-0.4,-0.4,-0.4,-0.6,-0.7,-0.6,-0.8,-0.7,-0.8,-0.9,-0.8,-1.0],
    [0.2,0.1,0.0,-0.1,0.0,-0.1,-0.2,-0.3,-0.3,-0.2,-0.5,-0.5,-0.5,-0.6,-0.6,-0.8,-0.7,-0.8,-0.9,-0.7],
    [-0.2,-0.1,-0.2,-0.2,-0.3,-0.2,-0.3,-0.3,-0.4,-0.5,-0.5,-0.6,-0.6,-0.7,-0.7,-0.7,-0.9,-0.9,-0.9,-1.2],
    [0.0,0.0,0.2,0.0,0.0,-0.1,-0.2,-0.3,-0.3,-0.3,-0.4,-0.4,-0.6,-0.6,-0.6,-0.7,-0.8,-0.8,-0.8,-0.9],
    [0.2,-0.2,0.2,-0.3,0.0,-0.3,-0.1,-0.4,-0.2,-0.6,-0.3,-0.6,-0.4,-0.8,-0.5,-0.9,-0.7,-0.9,-0.8,-1.1],
    [-0.3,0.1,-0.3,0.1,-0.4,0.0,-0.4,-0.2,-0.5,-0.2,-0.7,-0.4,-0.8,-0.5,-0.8,-0.6,-0.9,-0.8,-0.9,-0.8],
    [0.0,-0.1,0.0,-0.1,-0.1,-0.2,-0.2,-0.3,-0.3,-0.4,-0.5,-0.4,-0.6,-0.6,-0.7,-0.7,-0.8,-0.8,-0.9,-0.9],
    [-0.1,0.0,-0.2,-0.1,-0.3,-0.1,-0.3,-0.3,-0.4,-0.4,-0.5,-0.6,-0.6,-0.7,-0.7,-0.8,-0.8,-0.9,-0.8,-1.0],
    [0.3,0.0,0.4,-0.1,0.3,-0.1,-0.2,-0.2,-0.2,0.2,-0.1,-0.4,0.0,-0.6,-0.5,-0.7,-0.7,-0.8,-0.8,-0.5],
    [-0.4,-0.2,-0.5,-0.2,-0.6,-0.3,-0.3,-0.4,-0.5,-0.9,-0.9,-0.6,-1.1,-0.7,-0.9,-0.8,-0.9,-0.9,-0.9,-1.4],
    [0.1,0.1,-0.1,0.0,-0.2,-0.1,-0.2,-0.3,-0.3,-0.3,-0.5,-0.5,-0.5,-0.6,-0.7,-0.7,-0.8,-0.8,-0.8,-0.9],
    [-0.2,-0.1,0.0,-0.1,-0.1,-0.2,-0.3,-0.3,-0.4,-0.5,-0.4,-0.5,-0.7,-0.6,-0.7,-0.8,-0.8,-0.9,-0.9,-1.0],
    [0.0,0.0,-0.3,-0.1,-0.2,-0.2,-0.2,-0.4,-0.3,-0.6,-0.6,-0.5,-0.5,-0.7,-0.6,-0.7,-0.9,-0.8,-0.8,-1.1],
    [0.1,-0.1,0.1,-0.1,-0.1,-0.1,-0.3,-0.2,-0.4,-0.2,-0.5,-0.5,-0.6,-0.6,-0.7,-0.8,-0.7,-0.9,-0.9,-0.8],
    [-0.1,0.1,-0.1,0.0,-0.3,-0.2,-0.2,-0.3,-0.3,-0.4,-0.6,-0.5,-0.7,-0.6,-0.8,-0.7,-0.8,-0.8,-0.9,-1.2],
    [0.0,-0.1,0.1,-0.1,0.0,-0.2,-0.3,-0.3,-0.4,-0.3,-0.4,-0.6,-0.5,-0.7,-0.7,-0.7,-0.8,-0.9,-0.8,-0.7],
    [0.6,-0.4,0.9,0.0,0.7,-0.5,0.0,-0.6,0.3,0.7,-0.2,-0.7,0.5,-0.9,-0.3,-1.0,-0.5,-1.1,-0.6,0.6],
    [-0.8,0.3,-0.6,0.3,-1.0,0.2,-0.4,0.0,-0.7,-1.2,0.3,-0.2,-1.3,-0.3,-1.1,-0.5,-1.0,-0.6,-1.2,-2.3],
    [0.4,0.4,-0.8,0.4,0.5,-0.6,0.1,-0.5,0.5,-0.9,0.7,-1.0,0.3,-1.0,-0.2,-0.8,-0.6,-1.0,-0.7,0.0],
    [-0.6,-0.5,0.5,-0.3,-1.3,0.3,-0.6,-0.2,-0.6,0.6,-1.8,-0.1,-1.6,-0.3,-1.1,-0.6,-1.0,-0.7,-1.1,-1.8],
    [0.8,0.2,1.0,-0.2,0.9,0.1,-0.2,-0.4,0.2,0.9,0.6,-0.3,0.7,-0.5,-0.2,-0.6,-0.5,-0.7,-0.6,-0.1],
    [-0.9,-0.5,-1.0,-0.4,-1.5,-0.7,-0.6,-0.9,-0.8,-1.5,-2.0,-1.0,-1.7,-1.2,-1.1,-1.1,-1.2,-1.2,-1.3,-2.4],
    [0.9,-0.6,1.25,-0.4,1.1,-0.8,-0.1,-1.2,0.65,-1.65,0.95,-1.1,0.85,-1.4,0.1,-1.1,-0.35,-1.3,-0.6,1.1],
    [-1.0,0.5,-1.05,0.5,-1.7,0.45,-0.3,-0.1,-0.9,1.0,-2.2,0.1,-1.9,-0.2,-1.2,-0.4,-1.2,-0.4,-1.45,-2.55],
    [0.7,-0.3,0.9,0.3,-1.2,0.3,-0.5,-0.3,0.4,0.8,-1.5,0.0,0.5,-1.1,-0.3,-0.9,-0.6,-1.2,-0.7,0.4],
    [-0.8,0.4,-0.8,0.2,0.8,-0.6,0.0,-0.7,-0.1,-1.4,0.6,-0.9,-1.5,-0.4,-1.0,-0.5,-1.1,-0.6,-1.3,-2.1]
]
const clusters = [cluster1, cluster2, cluster3, cluster4, cluster5, cluster6]

const svg = d3.select('#chart')
const panelWidth = 212.4
const panelHeight = 223.2
const colLeft = [41.6, 311.6, 581.4]
const rowTop = [33.5, 337]

const x = d3.scaleLinear().domain([0.24, 20.76]).range([0, panelWidth])
const y = d3.scaleLinear().domain([-2.75, 3.235]).range([panelHeight, 0])
const line = d3.line().x((d, i) => x(timePoints[i])).y(d => y(d))

clusters.forEach((genes, k) => {
    const g = svg.append('g')
        .attr('transform', `translate(${colLeft[k % 3]},${rowTop[Math.floor(k / 3)]})`)

    g.append('g').selectAll('path').data(genes).enter().append('path')
        .attr('d', line)
        .attr('fill', 'none')
        .attr('stroke', '#000')
        .attr('stroke-width', 1.5)
        .attr('stroke-linejoin', 'round')

    g.append('rect')
        .attr('width', panelWidth).attr('height', panelHeight)
        .attr('fill', 'none').attr('stroke', '#000').attr('stroke-width', 1)

    const xAxis = g.append('g').attr('transform', `translate(0,${panelHeight})`)
        .call(d3.axisBottom(x).tickValues(xTicks).tickFormat(d3.format('d')).tickSize(6.5).tickSizeOuter(0))
    xAxis.select('.domain').remove()
    xAxis.selectAll('text').attr('dy', null).attr('y', 25)

    const yAxis = g.append('g')
        .call(d3.axisLeft(y).tickValues(yTicks).tickFormat(d3.format('d')).tickSize(6.5).tickSizeOuter(0))
    yAxis.select('.domain').remove()
    yAxis.selectAll('text')
        .attr('x', null).attr('dy', null)
        .attr('text-anchor', 'middle')
        .attr('transform', 'translate(-16.6,0) rotate(-90)')

    g.append('text')
        .attr('class', 'main_title')
        .attr('x', panelWidth / 2)
        .attr('y', -11.2)
        .attr('text-anchor', 'middle')
        .text(`${clusterNames[k]} (${clusterSizes[k]} genes)`)
})
</script>
</body>
</html>
